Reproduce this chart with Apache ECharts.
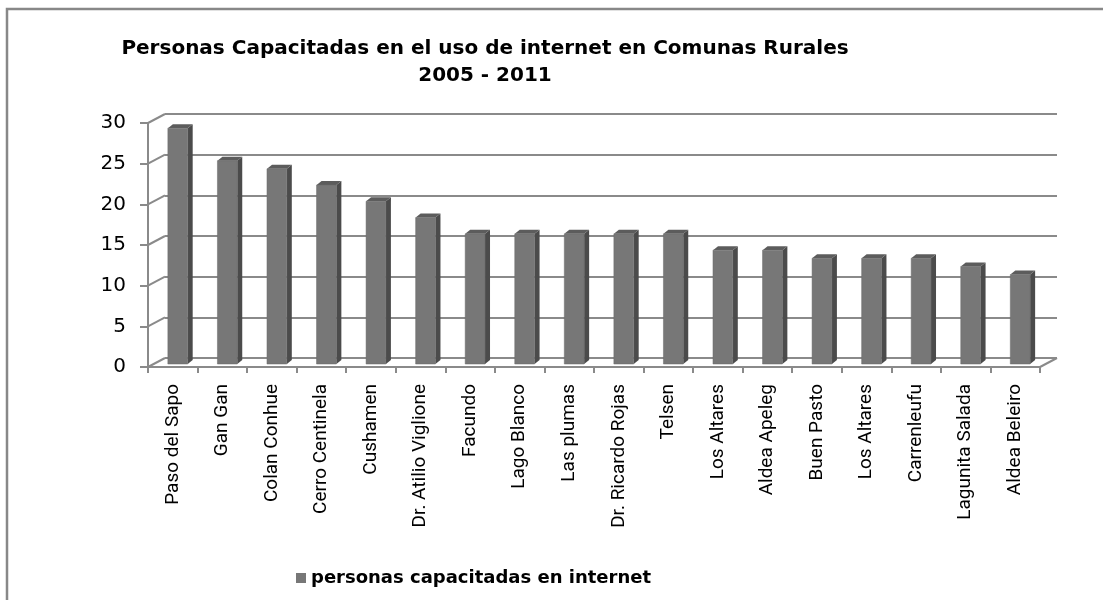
<!DOCTYPE html>
<html><head><meta charset="utf-8">
<script src="https://cdn.jsdelivr.net/npm/echarts@6/dist/echarts.min.js"></script>
<style>html,body{margin:0;padding:0;background:#fff}#c{width:1103px;height:600px}</style>
</head><body><div id="c"></div>
<script>
const categories = ['Paso del Sapo','Gan Gan','Colan Conhue','Cerro Centinela','Cushamen','Dr. Atilio Viglione','Facundo','Lago Blanco','Las plumas','Dr. Ricardo Rojas','Telsen','Los Altares','Aldea Apeleg','Buen Pasto','Los Altares','Carrenleufu','Lagunita Salada','Aldea Beleiro'];
const values = [29,25,24,22,20,18,16,16,16,16,16,14,14,13,13,13,12,11];
const yTicks = [0,5,10,15,20,25,30];
const seriesName = 'personas capacitadas en internet';
const titleText = 'Personas Capacitadas en el uso de internet en Comunas Rurales\n2005 - 2011';

const GRID_COLOR = '#8a8a8a';
const DEPTH = [17, -9];
const BAR_SHIFT = [5, -3];
const BAR_SIDE = [5, -4];
const BAR_RATIO = 0.4;

const chart = echarts.init(document.getElementById('c'));
const option = {
  backgroundColor: '#fff',
  animation: false,
  graphic: [
    {type:'rect', z:-10, shape:{x:7,y:9,width:1200,height:700}, style:{fill:'none', stroke:'#888', lineWidth:2.5}},
    {type:'text', x:485, y:35, style:{text:titleText, align:'center', verticalAlign:'top', fontFamily:'DejaVu Sans', fontWeight:'bold', fontSize:20, lineHeight:27, fill:'#000'}}
  ],
  legend: {
    data:[{name:seriesName, icon:'rect'}],
    left:291, top:564, itemWidth:10, itemHeight:10, itemGap:6,
    textStyle:{fontFamily:'DejaVu Sans', fontWeight:'bold', fontSize:18, color:'#000'}
  },
  grid: [
    {left:165, top:114, width:892, height:244},
    {left:148, top:123, width:892, height:244}
  ],
  xAxis: [
    {type:'category', gridIndex:0, data:categories, show:false},
    {type:'category', gridIndex:1, data:categories,
     axisLine:{lineStyle:{color:GRID_COLOR, width:2}},
     axisTick:{show:true, length:6, lineStyle:{color:GRID_COLOR, width:2}},
     axisLabel:{rotate:90, margin:17, interval:0, fontFamily:'Roboto', fontSize:19, color:'#000'}}
  ],
  yAxis: [
    {type:'value', gridIndex:0, min:0, max:30, interval:5,
     axisLabel:{show:false}, axisLine:{show:false}, axisTick:{show:false},
     splitLine:{lineStyle:{color:GRID_COLOR, width:2}}},
    {type:'value', gridIndex:1, min:0, max:30, interval:5,
     axisLine:{show:true, lineStyle:{color:GRID_COLOR, width:2}},
     axisTick:{show:true, length:8, lineStyle:{color:GRID_COLOR, width:2}},
     splitLine:{show:false},
     axisLabel:{margin:22, fontFamily:'DejaVu Sans', fontSize:20, color:'#000'}}
  ],
  series: [
    {
      type:'custom', xAxisIndex:1, yAxisIndex:1, silent:true, z:1,
      data: yTicks.map(v => [0, v, -1]).concat([[categories.length-1, 0, 1]]),
      renderItem: function(params, api){
        const p = api.coord([api.value(0), api.value(1)]);
        const bw = api.size([1,0])[0];
        const x0 = p[0] + api.value(2) * bw / 2;
        return {type:'line', shape:{x1:x0, y1:p[1], x2:x0+DEPTH[0], y2:p[1]+DEPTH[1]},
                style:{stroke:GRID_COLOR, lineWidth:2}};
      }
    },
    {
      type:'custom', name:seriesName, xAxisIndex:1, yAxisIndex:1, z:3,
      itemStyle:{color:'#777777'},
      data: values.map((v,i) => [i, v]),
      renderItem: function(params, api){
        const top = api.coord([api.value(0), api.value(1)]);
        const base = api.coord([api.value(0), 0]);
        const bw = api.size([1,0])[0] * BAR_RATIO;
        const xl = top[0] - bw/2 + BAR_SHIFT[0];
        const xr = xl + bw;
        const yt = top[1] + BAR_SHIFT[1];
        const yb = base[1] + BAR_SHIFT[1];
        const dx = BAR_SIDE[0], dy = BAR_SIDE[1];
        return {type:'group', children:[
          {type:'polygon', shape:{points:[[xr,yt],[xr+dx,yt+dy],[xr+dx,yb+dy],[xr,yb]]}, style:{fill:'#4b4b4b'}},
          {type:'polygon', shape:{points:[[xl,yt],[xl+dx,yt+dy],[xr+dx,yt+dy],[xr,yt]]}, style:{fill:'#5c5c5c'}},
          {type:'rect', shape:{x:xl, y:yt, width:bw, height:yb-yt}, style:{fill:'#777777', stroke:'#6a6a6a', lineWidth:0.5}}
        ]};
      }
    }
  ]
};
chart.setOption(option);
</script></body></html>
